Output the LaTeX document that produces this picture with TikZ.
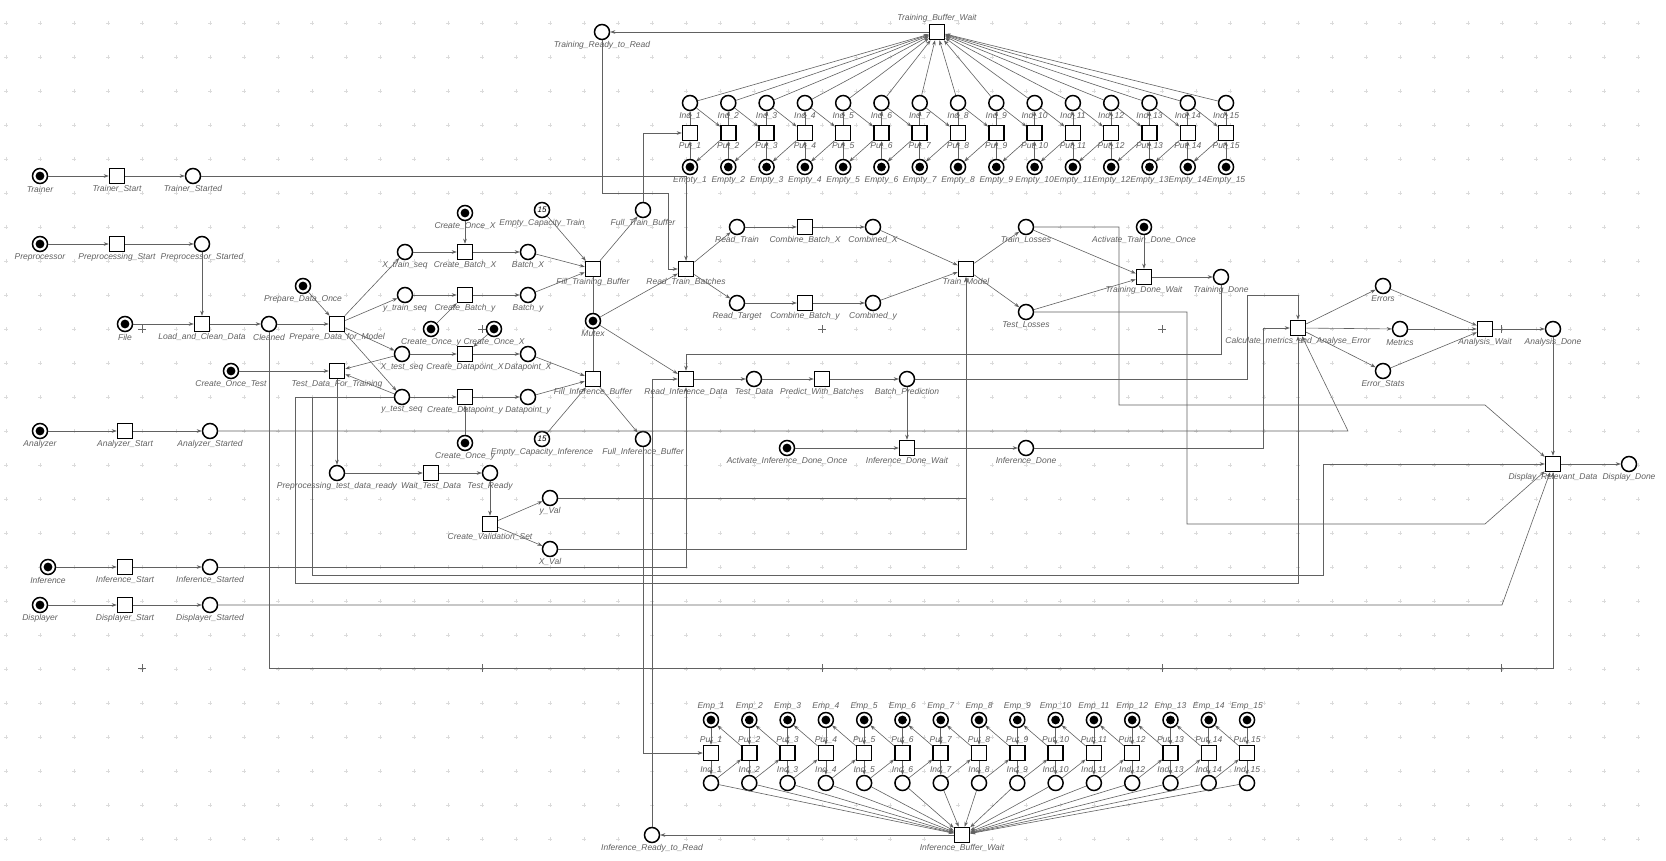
\documentclass[tikz,border=0pt]{standalone}
\usepackage{fontspec}
\setmainfont{Liberation Sans}
\usetikzlibrary{arrows.meta,calc}
\newcommand\PL[5]{\node[#1] (#2) at (#3,#4) {}; \node[lb] at (#3,#4+13) {#5};}
\newcommand\PLA[5]{\node[#1] (#2) at (#3,#4) {}; \node[lb] at (#3,#4-13.5) {#5};}
\begin{document}
\begin{tikzpicture}[x=1pt,y=-1pt,
 pl/.style={circle,draw=black,fill=white,line width=1.5pt,minimum size=15pt,inner sep=0pt},
 mpl/.style={pl,path picture={\fill[black] (path picture bounding box.center) circle (4.4pt);}},
 tn/.style={rectangle,draw=black,fill=white,line width=1.5pt,minimum size=15pt,inner sep=0pt},
 cn/.style={draw=black!62,line width=0.6pt,-{Stealth[length=5pt,width=3.6pt]}},
 ln/.style={draw=black!62,line width=0.6pt},
 lb/.style={font=\itshape\fontsize{8.5}{10}\selectfont,text=black!62,inner sep=0pt},
 num/.style={font=\itshape\fontsize{8}{9}\selectfont}
]
\fill[white] (0,0) rectangle (1666,861);
\useasboundingbox (0,0) rectangle (1666,861);
% grid
\foreach \i in {0,...,48}{\foreach \j in {0,...,24}{
  \draw[black!14,line width=0.4pt] ({6+34*\i-2},{23+34*\j}) -- ++(4,0) ({6+34*\i},{23+34*\j-2}) -- ++(0,4);}}
\foreach \x in {142,482,822,1162,1501}{\foreach \y in {329,668}{
  \draw[black!60,line width=0.5pt] (\x-4,\y) -- ++(8,0) (\x,\y-4) -- ++(0,8);}}

% ---------- nodes ----------
\PL{mpl}{Trainer}{40}{176}{Trainer}
\PL{tn}{TrStart}{117}{176}{Trainer\_Start}
\PL{pl}{TrStarted}{193}{176}{Trainer\_Started}
\PL{mpl}{Prep}{40}{244}{Preprocessor}
\PL{tn}{PrepStart}{117}{244}{Preprocessing\_Start}
\PL{pl}{PrepStarted}{202}{244}{Preprocessor\_Started}
\PL{mpl}{File}{125}{324}{File}
\PL{tn}{LCD}{202}{324}{Load\_and\_Clean\_Data}
\PL{pl}{Cleaned}{269}{324}{Cleaned}
\PL{mpl}{PDO}{303}{286}{Prepare\_Data\_Once}
\PL{tn}{PDM}{337}{324}{Prepare\_Data\_for\_Model}
\PL{mpl}{COT}{231}{371}{Create\_Once\_Test}
\PL{tn}{TDFT}{337}{371}{Test\_Data\_For\_Training}
\PL{pl}{Xtr}{405}{252}{X\_train\_seq}
\PL{pl}{ytr}{405}{295}{y\_train\_seq}
\PL{pl}{Xte}{402}{354}{X\_test\_seq}
\PL{pl}{yte}{402}{397}{y\_test\_seq}
\PL{mpl}{Ana}{40}{431}{Analyzer}
\PL{tn}{AnaStart}{125}{431}{Analyzer\_Start}
\PL{pl}{AnaStarted}{210}{431}{Analyzer\_Started}
\PL{pl}{PTDR}{337}{473}{Preprocessing\_test\_data\_ready}
\PL{mpl}{Inf}{48}{567}{Inference}
\PL{tn}{InfStart}{125}{567}{Inference\_Start}
\PL{pl}{InfStarted}{210}{567}{Inference\_Started}
\PL{mpl}{Disp}{40}{605}{Displayer}
\PL{tn}{DispStart}{125}{605}{Displayer\_Start}
\PL{pl}{DispStarted}{210}{605}{Displayer\_Started}

\PL{mpl}{COX}{465}{213}{Create\_Once\_X}
\node[pl,num] (ECT) at (542,210) {15}; \node[lb] at (542,223) {Empty\_Capacity\_Train};
\PL{pl}{FTBuf}{643}{210}{Full\_Train\_Buffer}
\PL{tn}{CBX}{465}{252}{Create\_Batch\_X}
\PL{pl}{BX}{528}{252}{Batch\_X}
\PL{tn}{FTB}{593}{269}{Fill\_Training\_Buffer}
\PL{tn}{RTB}{686}{269}{Read\_Train\_Batches}
\PL{pl}{RTr}{737}{227}{Read\_Train}
\PL{tn}{CombX}{805}{227}{Combine\_Batch\_X}
\PL{pl}{CdX}{873}{227}{Combined\_X}
\PL{tn}{CBy}{465}{295}{Create\_Batch\_y}
\PL{pl}{By}{528}{295}{Batch\_y}
\PL{mpl}{Mutex}{593}{321}{Mutex}
\PL{pl}{RTa}{737}{303}{Read\_Target}
\PL{tn}{Comby}{805}{303}{Combine\_Batch\_y}
\PL{pl}{Cdy}{873}{303}{Combined\_y}
\PL{mpl}{COy}{431}{329}{Create\_Once\_y}
\PL{mpl}{COXb}{494}{329}{Create\_Once\_X}
\PL{tn}{CDX}{465}{354}{Create\_Datapoint\_X}
\PL{pl}{DX}{528}{354}{Datapoint\_X}
\PL{tn}{FIB}{593}{379}{Fill\_Inference\_Buffer}
\PL{tn}{RID}{686}{379}{Read\_Inference\_Data}
\PL{pl}{TD}{754}{379}{Test\_Data}
\PL{tn}{PWB}{822}{379}{Predict\_With\_Batches}
\PL{pl}{BP}{907}{379}{Batch\_Prediction}
\PL{tn}{CDy}{465}{397}{Create\_Datapoint\_y}
\PL{pl}{Dy}{528}{397}{Datapoint\_y}
\PL{mpl}{COyb}{465}{443}{Create\_Once\_y}
\node[pl,num] (ECI) at (542,439) {15}; \node[lb] at (542,452) {Empty\_Capacity\_Inference};
\PL{pl}{FuIB}{643}{439}{Full\_Inference\_Buffer}
\PL{mpl}{AIDO}{787}{448}{Activate\_Inference\_Done\_Once}
\PL{tn}{IDW}{907}{448}{Inference\_Done\_Wait}
\PL{pl}{IDn}{1026}{448}{Inference\_Done}
\PL{tn}{WTD}{431}{473}{Wait\_Test\_Data}
\PL{pl}{TR}{490}{473}{Test\_Ready}
\PL{pl}{yV}{550}{498}{y\_Val}
\PL{tn}{CVS}{490}{524}{Create\_Validation\_Set}
\PL{pl}{XV}{550}{549}{X\_Val}
\PL{tn}{TM}{966}{269}{Train\_Model}
\PL{pl}{TrL}{1026}{227}{Train\_Losses}
\PL{pl}{TeL}{1026}{312}{Test\_Losses}
\PL{mpl}{ATDO}{1144}{227}{Activate\_Train\_Done\_Once}
\PL{tn}{TDW}{1144}{277}{Training\_Done\_Wait}
\PL{pl}{TDn}{1221}{277}{Training\_Done}
\PL{tn}{CMAE}{1298}{328}{Calculate\_metrics\_and\_Analyse\_Error}
\PL{pl}{Err}{1383}{286}{Errors}
\PL{pl}{Met}{1400}{329}{Metrics}
\PL{pl}{ES}{1383}{371}{Error\_Stats}
\PL{tn}{AW}{1485}{329}{Analysis\_Wait}
\PL{pl}{AD}{1553}{329}{Analysis\_Done}
\PL{tn}{DRD}{1553}{464}{Display\_Relevant\_Data}
\PL{pl}{DD}{1629}{464}{Display\_Done}
\PL{pl}{TRtR}{602}{32}{Training\_Ready\_to\_Read}
\PLA{tn}{TBW}{937}{32}{Training\_Buffer\_Wait}
\PL{tn}{IBW}{962}{835}{Inference\_Buffer\_Wait}
\PL{pl}{IRtR}{652}{835}{Inference\_Ready\_to\_Read}

% buffers
\foreach \k in {1,...,15}{
  \pgfmathsetmacro\xu{690+38.29*(\k-1)}
  \node[pl] (UI\k) at (\xu,103) {}; \node[lb] at (\xu,116) {Ind\_\k};
  \node[tn] (UP\k) at (\xu,133) {}; \node[lb] at (\xu,146) {Put\_\k};
  \node[mpl] (UE\k) at (\xu,167) {}; \node[lb] at (\xu,180) {Empty\_\k};
  \pgfmathsetmacro\xl{711+38.29*(\k-1)}
  \node[mpl] (LE\k) at (\xl,720) {}; \node[lb] at (\xl,706) {Emp\_\k};
  \node[tn] (LP\k) at (\xl,753) {}; \node[lb] at (\xl,740) {Put\_\k};
  \node[pl] (LI\k) at (\xl,783) {}; \node[lb] at (\xl,770) {Ind\_\k};
}
\foreach \k in {1,...,15}{
  \draw[cn] (UE\k) -- (UP\k); \draw[cn] (UP\k) -- (UI\k); \draw[cn] (UI\k) -- (TBW);
  \draw[cn] (LE\k) -- (LP\k); \draw[cn] (LP\k) -- (LI\k); \draw[cn] (LI\k) -- (IBW);
}
\foreach \k in {1,...,14}{
  \pgfmathtruncatemacro\n{\k+1}
  \draw[cn] (UI\k) -- (UP\n); \draw[cn] (UP\n) -- (UE\k);
  \draw[cn] (LI\k) -- (LP\n); \draw[cn] (LP\n) -- (LE\k);
}

% ---------- connectors ----------
\draw[cn] (Trainer) -- (TrStart); \draw[cn] (TrStart) -- (TrStarted);
\draw[cn] (TrStarted) -| (RTB);
\draw[cn] (Prep) -- (PrepStart); \draw[cn] (PrepStart) -- (PrepStarted);
\draw[cn] (PrepStarted) -- (LCD);
\draw[cn] (File) -- (LCD); \draw[cn] (LCD) -- (Cleaned); \draw[cn] (Cleaned) -- (PDM);
\draw[cn] (Cleaned) -- (269,668) -| (DRD);
\draw[cn] (PDO) -- (PDM);
\draw[cn] (PDM) -- (Xtr); \draw[cn] (PDM) -- (ytr); \draw[cn] (PDM) -- (Xte); \draw[cn] (PDM) -- (yte);
\draw[cn] (COT) -- (TDFT); \draw[cn] (Xte) -- (TDFT); \draw[cn] (yte) -- (TDFT);
\draw[cn] (TDFT) -- (PTDR); \draw[cn] (PTDR) -- (WTD); \draw[cn] (WTD) -- (TR);
\draw[cn] (TR) -- (CVS); \draw[cn] (CVS) -- (yV); \draw[cn] (CVS) -- (XV);
\draw[cn] (Xtr) -- (CBX); \draw[cn] (COX) -- (CBX); \draw[cn] (CBX) -- (BX);
\draw[cn] (BX) -- (FTB); \draw[cn] (ECT) -- (FTB); \draw[cn] (FTB) -- (FTBuf);
\draw[cn] (FTBuf) |- (UP1);
\draw[cn] (ytr) -- (CBy); \draw[cn] (COy) -- (CBy); \draw[cn] (CBy) -- (By); \draw[cn] (By) -- (FTB);
\draw[ln] (Mutex) -- (FTB); \draw[ln] (Mutex) -- (FIB);
\draw[cn] (Mutex) -- (RTB); \draw[cn] (Mutex) -- (RID);
\draw[cn] (Xte) -- (CDX); \draw[cn] (COXb) -- (CDX); \draw[cn] (CDX) -- (DX); \draw[cn] (DX) -- (FIB);
\draw[cn] (yte) -- (CDy); \draw[cn] (COyb) -- (CDy); \draw[cn] (CDy) -- (Dy); \draw[cn] (Dy) -- (FIB);
\draw[cn] (ECI) -- (FIB); \draw[cn] (FIB) -- (FuIB);
\draw[cn] (FuIB) |- (LP1);
\draw[cn] (IRtR) |- (RID);
\draw[cn] (IBW) -- (IRtR);
\draw[cn] (RID) -- (TD); \draw[cn] (TD) -- (PWB); \draw[cn] (PWB) -- (BP);
\draw[cn] (BP) -- (IDW); \draw[cn] (AIDO) -- (IDW); \draw[cn] (IDW) -- (IDn);
\draw[cn] (IDn) -- (1263,448) |- (CMAE);
\draw[cn] (BP) -- (1247,379) -- (1247,295) -| (CMAE);
\draw[cn] (RTB) -- (RTr); \draw[cn] (RTB) -- (RTa);
\draw[cn] (RTr) -- (CombX); \draw[cn] (CombX) -- (CdX); \draw[cn] (CdX) -- (TM);
\draw[cn] (RTa) -- (Comby); \draw[cn] (Comby) -- (Cdy); \draw[cn] (Cdy) -- (TM);
\draw[cn] (TRtR) -- (602,193) -- (668,193) |- (RTB);
\draw[cn] (TBW) -- (TRtR);
\draw[cn] (TM) -- (TrL); \draw[cn] (TM) -- (TeL);
\draw[cn] (TrL) -- (TDW); \draw[cn] (TeL) -- (TDW); \draw[cn] (ATDO) -- (TDW); \draw[cn] (TDW) -- (TDn);
\draw[cn] (TDn) -- (1221,354) -| (RID);
\draw[cn] (InfStarted) -| (RID);
\draw[cn] (yV) -| (TM); \draw[cn] (XV) -| (TM);
\draw[cn] (TrL) -- (1119,227) -- (1119,405) -- (1485,405) -- (DRD);
\draw[cn] (TeL) -- (1187,312) -- (1187,524) -- (1485,524) -- (DRD);
\draw[cn] (yte) -- (312,397) -- (312,575) -- (1323,575) |- (DRD);
\draw[cn] (yte) -- (295,397) -- (295,583) -| (CMAE);
\draw[cn] (AnaStarted) -- (1348,431) -- (CMAE);
\draw[cn] (DispStarted) -- (1502,605) -- (DRD);
\draw[cn] (Ana) -- (AnaStart); \draw[cn] (AnaStart) -- (AnaStarted);
\draw[cn] (Inf) -- (InfStart); \draw[cn] (InfStart) -- (InfStarted);
\draw[cn] (Disp) -- (DispStart); \draw[cn] (DispStart) -- (DispStarted);
\draw[cn] (CMAE) -- (Err); \draw[cn] (CMAE) -- (Met); \draw[cn] (CMAE) -- (ES);
\draw[cn] (Err) -- (AW); \draw[cn] (Met) -- (AW); \draw[cn] (ES) -- (AW);
\draw[cn] (AW) -- (AD); \draw[cn] (AD) -- (DRD); \draw[cn] (DRD) -- (DD);
\end{tikzpicture}
\end{document}
